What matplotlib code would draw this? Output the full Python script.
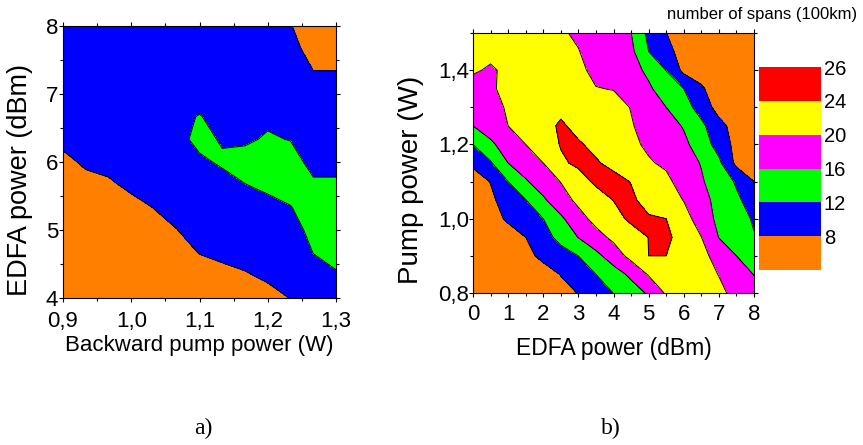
import numpy as np
import matplotlib
matplotlib.use("Agg")
import matplotlib.pyplot as plt
from matplotlib.colors import ListedColormap, BoundaryNorm
from matplotlib.cm import ScalarMappable
from matplotlib.ticker import MultipleLocator, FuncFormatter

plt.rcParams["font.family"] = ["Liberation Sans", "DejaVu Sans"]

# ---- data -------------------------------------------------------------
# a) number of spans vs backward pump power (W) and EDFA power (dBm)
pump_a = [0.9, 0.9333, 0.9667, 1.0, 1.0333, 1.0667, 1.1,
          1.1333, 1.1667, 1.2, 1.2333, 1.2667, 1.3]
edfa_a = [4.0, 4.333, 4.667, 5.0, 5.333, 5.667, 6.0,
          6.333, 6.667, 7.0, 7.333, 7.667, 8.0]
# one list per pump power column, EDFA power from 4 to 8 dBm
spans_a_by_pump = [
    [4.0, 4.5, 5.0, 5.5, 6.0, 6.6, 7.5, 8.5, 9.2, 9.6, 9.8, 10.0, 10.0],
    [4.5, 5.0, 5.5, 6.0, 6.7, 7.4, 8.3, 9.0, 9.5, 9.9, 10.1, 10.2, 10.2],
    [5.0, 5.5, 6.0, 6.6, 7.2, 7.7, 8.6, 9.3, 9.8, 10.2, 10.4, 10.5, 10.4],
    [5.5, 6.0, 6.5, 7.0, 7.4, 8.4, 9.2, 9.8, 10.3, 10.6, 10.7, 10.7, 10.6],
    [6.0, 6.5, 6.9, 7.3, 8.05, 9.0, 9.8, 10.4, 10.8, 11.0, 11.0, 10.9, 10.7],
    [6.4, 6.9, 7.4, 7.95, 8.9, 9.8, 10.6, 11.3, 11.5, 11.3, 11.1, 10.9, 10.6],
    [6.8, 7.3, 8.05, 9.0, 9.9, 10.8, 11.6, 12.6, 12.1, 11.2, 10.9, 10.6, 10.3],
    [7.0, 7.5, 8.4, 9.3, 10.2, 11.2, 12.3, 11.8, 11.3, 10.8, 10.4, 10.1, 9.8],
    [7.2, 7.8, 8.8, 9.7, 10.6, 11.95, 13.0, 11.6, 11.2, 10.8, 10.3, 9.9, 9.5],
    [7.3, 8.35, 9.3, 10.2, 11.3, 12.5, 13.0, 12.3, 11.5, 10.9, 10.2, 9.5, 9.0],
    [8.05, 9.0, 9.9, 10.9, 11.9, 13.0, 13.3, 11.9, 11.0, 10.2, 9.3, 8.6, 8.1],
    [9.3, 11.0, 12.05, 12.8, 13.2, 12.5, 11.0, 10.0, 9.2, 8.6, 8.02, 7.3, 6.8],
    [10.3, 11.7, 12.9, 13.4, 13.5, 12.5, 11.0, 10.0, 9.3, 8.7, 8.02, 7.0, 6.5],
]

# b) number of spans vs EDFA power (dBm) and pump power (W)
edfa_b = [0.0, 0.5, 1.0, 1.5, 2.0, 2.5, 3.0, 3.5, 4.0,
          4.5, 5.0, 5.5, 6.0, 6.5, 7.0, 7.5, 8.0]
pump_b = [0.80, 0.85, 0.90, 0.95, 1.00, 1.05, 1.10, 1.15,
          1.20, 1.25, 1.30, 1.35, 1.40, 1.45, 1.50]
# one list per pump power row, EDFA power from 0 to 8 dBm
spans_b = [
    [2, 3, 4, 5, 6, 7, 8.1, 10, 12.05, 14.1, 16.5, 20.5, 21.5, 21.5, 20.8, 19, 17],
    [2.5, 3.5, 4.5, 5.5, 6.6, 8.1, 10.0, 12.0, 14.2, 16.8, 20.3, 21.5, 22, 21.5, 19.9, 17.9, 15.9],
    [3, 4.2, 5.5, 7.1, 8.8, 10.4, 12.03, 14.9, 18.0, 21.2, 24.0, 24.0, 22.8, 21.0, 18.7, 16.0, 14.0],
    [4, 5.2, 6.5, 8.0, 10.5, 13.2, 16.1, 18.7, 20.8, 22.5, 24.05, 25.0, 22.0, 20.05, 15.9, 13.9, 12.2],
    [5, 6.7, 8.5, 10.3, 12.0, 15.3, 18.7, 21.1, 22.9, 24.6, 24.3, 24.0, 21.4, 18.3, 15.0, 13.5, 11.6],
    [6, 7.4, 9.4, 11.9, 15.4, 18.5, 20.8, 22.4, 24.05, 24.5, 23.0, 21.5, 19.9, 17.2, 14.9, 12.6, 10.5],
    [6.5, 8.1, 12.0, 15.6, 18.0, 20.1, 22.6, 24.6, 25.0, 23.9, 22.3, 20.7, 18.7, 16.4, 14.0, 11.6, 8.0],
    [8.6, 11.6, 16.0, 18.0, 20.0, 23.5, 24.6, 24.3, 23.2, 22.0, 20.3, 19.5, 17.6, 15.8, 12.8, 7.0, 5.5],
    [12.0, 15.3, 17.8, 20.0, 22.0, 24.2, 24.3, 23.3, 22.0, 20.6, 19.5, 18.4, 16.9, 14.0, 10.5, 6.8, 5.5],
    [16.0, 17.8, 20.0, 21.5, 23.0, 24.4, 23.2, 22.3, 21.3, 20.2, 19.0, 17.6, 15.7, 12.9, 9.2, 6.5, 5.5],
    [17.6, 18.8, 20.4, 21.6, 22.6, 23.3, 22.8, 22.0, 21.0, 19.9, 18.0, 16.0, 13.7, 10.3, 6.5, 5.5, 5.0],
    [19.0, 19.6, 20.8, 21.6, 22.0, 21.8, 21.0, 20.1, 19.9, 18.4, 16.5, 14.3, 12.0, 8.6, 5.5, 5.0, 4.8],
    [20.3, 19.7, 20.5, 21.0, 21.2, 21.0, 20.6, 19.3, 18.5, 17.2, 15.3, 11.9, 7.0, 6.0, 5.0, 4.7, 4.5],
    [20.8, 20.6, 21.0, 21.2, 21.0, 20.6, 20.1, 18.9, 17.7, 16.9, 12.0, 9.2, 6.5, 5.5, 5.0, 4.5, 4.3],
    [21.0, 21.0, 21.0, 21.0, 20.8, 20.3, 19.6, 18.5, 17.3, 16.05, 11.0, 8.05, 6.0, 5.5, 5.0, 4.5, 4.0],
]

span_levels = [0, 8, 12, 16, 20, 24, 26]
level_labels = ["8", "12", "16", "20", "24", "26"]
level_colors = ["#FF8000", "#0000FF", "#00FF00", "#FF00FF", "#FFFF00", "#FF0000"]

# ---- figure -------------------------------------------------------------
W, H = 863, 445
fig = plt.figure(figsize=(W / 100, H / 100), dpi=100)


def px_axes(x0, y0, x1, y1):
    return fig.add_axes([x0 / W, 1 - y1 / H, (x1 - x0) / W, (y1 - y0) / H])


ax_a = px_axes(63, 26, 336, 298)
ax_b = px_axes(473, 33, 754, 293)
cax = px_axes(759, 67, 821, 270)

cmap = ListedColormap(level_colors)
norm = BoundaryNorm(span_levels, cmap.N)

comma1 = FuncFormatter(lambda v, pos: f"{v:.1f}".replace(".", ","))

# panel a
Xa, Ya = np.meshgrid(pump_a, edfa_a)
Za = np.array(spans_a_by_pump).T
ax_a.contourf(Xa, Ya, Za, levels=span_levels, colors=level_colors)
ax_a.contour(Xa, Ya, Za, levels=span_levels[1:-1], colors="black", linewidths=0.7)
ax_a.set_xlim(0.9, 1.3)
ax_a.set_ylim(4, 8)
ax_a.xaxis.set_major_locator(MultipleLocator(0.1))
ax_a.xaxis.set_minor_locator(MultipleLocator(0.05))
ax_a.yaxis.set_major_locator(MultipleLocator(1))
ax_a.yaxis.set_minor_locator(MultipleLocator(0.5))
ax_a.xaxis.set_major_formatter(comma1)
ax_a.set_xlabel("Backward pump power (W)", fontsize=16)
ax_a.set_ylabel("EDFA power (dBm)", fontsize=19.5)

# panel b
Xb, Yb = np.meshgrid(edfa_b, pump_b)
Zb = np.array(spans_b)
ax_b.contourf(Xb, Yb, Zb, levels=span_levels, colors=level_colors)
ax_b.contour(Xb, Yb, Zb, levels=span_levels[1:-1], colors="black", linewidths=0.7)
ax_b.set_xlim(0, 8)
ax_b.set_ylim(0.8, 1.5)
ax_b.xaxis.set_major_locator(MultipleLocator(1))
ax_b.xaxis.set_minor_locator(MultipleLocator(0.5))
ax_b.yaxis.set_major_locator(MultipleLocator(0.2))
ax_b.yaxis.set_minor_locator(MultipleLocator(0.1))
ax_b.yaxis.set_major_formatter(comma1)
ax_b.set_xlabel("EDFA power (dBm)", fontsize=16.5)
ax_b.set_ylabel("Pump power (W)", fontsize=20)

for ax in (ax_a, ax_b):
    ax.tick_params(which="both", direction="out", top=True, right=True,
                   labelsize=16, width=0.8, colors="black")
    ax.tick_params(which="major", length=3)
    ax.tick_params(which="minor", length=2)
    for s in ax.spines.values():
        s.set_linewidth(0.8)

ax_a.tick_params(axis="x", which="major", pad=6)
ax_b.tick_params(axis="x", which="major", pad=5)
ax_a.tick_params(axis="y", which="major", pad=0.5)
ax_b.tick_params(axis="y", which="major", pad=0)
ax_a.xaxis.set_label_coords(0.5, -0.136)
ax_b.xaxis.set_label_coords(0.5, -0.169)
ax_a.yaxis.set_label_coords(-0.11, 0.434)
ax_b.yaxis.set_label_coords(-0.174, 0.435)

# legend bar for the span levels
sm = ScalarMappable(norm=norm, cmap=cmap)
cb = fig.colorbar(sm, cax=cax, boundaries=span_levels, spacing="uniform",
                  ticks=span_levels[1:])
cb.set_ticklabels(level_labels)
cb.outline.set_visible(False)
cax.minorticks_off()
cax.tick_params(which="both", length=0, labelsize=14.5, pad=2)

fig.text(762 / W, 1 - 14 / H, "number of spans (100km)", fontsize=12,
         ha="center", va="center")

fig.text(203 / W, 1 - 428 / H, "a)", fontsize=17, ha="center", va="center",
         family="Liberation Serif")
fig.text(611 / W, 1 - 428 / H, "b)", fontsize=17, ha="center", va="center",
         family="Liberation Serif")

fig.savefig("out.png", dpi=100)
